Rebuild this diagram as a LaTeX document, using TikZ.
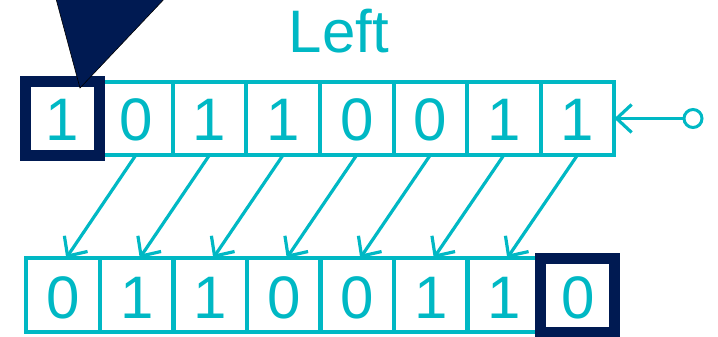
\documentclass[tikz,border=0pt]{standalone}
\usepackage{fontspec}
\setmainfont{Liberation Sans}
\usetikzlibrary{arrows.meta}
\definecolor{teal1}{RGB}{0,184,196}
\definecolor{navy1}{RGB}{0,26,82}
\begin{document}
\begin{tikzpicture}[x=1pt,y=-1pt,
  cell/.style={draw=teal1,line width=4pt,minimum width=73.6pt,minimum height=73pt,
    inner sep=0pt,outer sep=0pt,text=teal1,font=\fontsize{60}{60}\selectfont},
  hilite/.style={draw=navy1,line width=11pt},
  arr/.style={draw=teal1,line width=3.2pt,-{Straight Barb[length=15pt,width=28pt,line width=3.2pt]}},
  lbl/.style={text=teal1,font=\fontsize{60}{60}\selectfont,inner sep=0pt,anchor=base},
  pin/.style={draw=teal1,line width=3pt,circle,minimum size=18pt,inner sep=0pt,outer sep=0pt}
]
\useasboundingbox (0,0) rectangle (718,337);
\node[lbl] (title) at (339,53) {Left};
% top row
\foreach \d [count=\i] in {1,0,1,1,0,0,1,1}{
  \node[cell] (t\i) at ({25.5+73.6*(\i-0.5)},118.5) {};
  \node[lbl] (td\i) at ({25.5+73.6*(\i-0.5)},140) {\d};
}
% bottom row
\foreach \d [count=\i] in {0,1,1,0,0,1,1,0}{
  \node[cell,minimum height=74pt] (b\i) at ({26.5+73.5*(\i-0.5)},295) {};
  \node[lbl] (bd\i) at ({26.5+73.5*(\i-0.5)},318) {\d};
}
% shift arrows
\foreach \i [evaluate=\i as \j using int(\i+1)] in {1,...,7}{
  \draw[arr] (t\j.south) -- ([xshift=3pt]b\i.north);
}
% input
\node[pin] (in) at (693,118.5) {};
\draw[arr] (in.west) -- (t8.east);
% highlights
\draw[hilite] (t1.south west) rectangle (t1.north east);
\draw[hilite] (b8.south west) rectangle (b8.north east);
\coordinate (tipA) at (55,-5);
\coordinate (tipB) at (168,-5);
\coordinate (tipC) at (80,88);
\draw[fill=navy1,draw=black,line width=0.6pt] (tipA) -- (tipB) -- (tipC) -- cycle;
\end{tikzpicture}
\end{document}
